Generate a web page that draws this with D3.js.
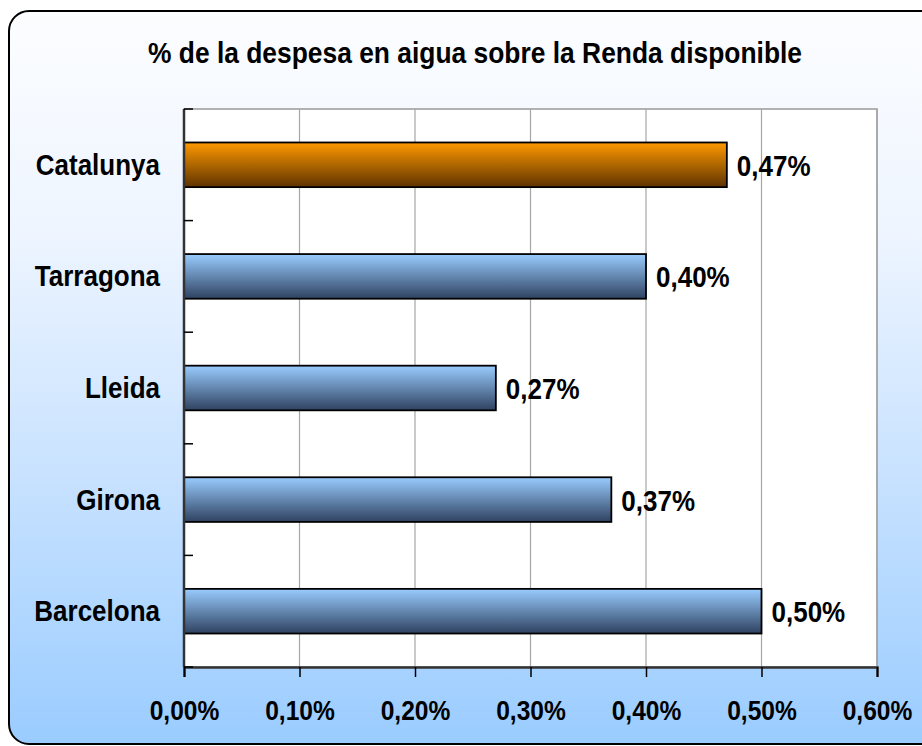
<!DOCTYPE html>
<html>
<head>
<meta charset="utf-8">
<script src="https://cdn.jsdelivr.net/npm/d3@7"></script>
<style>
  html, body { margin: 0; padding: 0; background: #ffffff; }
  svg { display: block; font-family: "Liberation Sans", Arial, sans-serif; font-weight: bold; }
</style>
</head>
<body>
<div id="chart"></div>
<script>
// Chart data
var titleText = "% de la despesa en aigua sobre la Renda disponible";
var categories = ["Catalunya", "Tarragona", "Lleida", "Girona", "Barcelona"];
var values = [0.47, 0.40, 0.27, 0.37, 0.50];   // in percent
var highlighted = ["Catalunya"];
var xTicks = [0, 0.1, 0.2, 0.3, 0.4, 0.5, 0.6];

var W = 922, H = 746;
var plot = { left: 184, right: 877, top: 109, bottom: 667 };
var stretch = 1.12; // the original text is a little taller than wide

function pct(v) {
	// Catalan style: comma decimals
	return v.toFixed(2).replace(".", ",") + "%";
}

// place a text at its baseline point, slightly stretched vertically
function place(px, py) {
	return "translate(" + px + "," + py + ") scale(1," + stretch + ")";
}

var svg = d3.select("#chart").append("svg").attr("width", W).attr("height", H);
var defs = svg.append("defs");

// background gradient of the chart frame
var bg = defs.append("linearGradient").attr("id", "bgGrad")
	.attr("x1", 0).attr("y1", 0).attr("x2", 0).attr("y2", 1);
bg.append("stop").attr("offset", "0%").attr("stop-color", "#fcfdff");
bg.append("stop").attr("offset", "30%").attr("stop-color", "#eef5ff");
bg.append("stop").attr("offset", "65%").attr("stop-color", "#c6e1ff");
bg.append("stop").attr("offset", "100%").attr("stop-color", "#9accff");

// bar gradients
var blue = defs.append("linearGradient").attr("id", "blueGrad")
	.attr("x1", 0).attr("y1", 0).attr("x2", 0).attr("y2", 1);
blue.append("stop").attr("offset", "0%").attr("stop-color", "#99ccff");
blue.append("stop").attr("offset", "100%").attr("stop-color", "#2f4260");

var orange = defs.append("linearGradient").attr("id", "orangeGrad")
	.attr("x1", 0).attr("y1", 0).attr("x2", 0).attr("y2", 1);
orange.append("stop").attr("offset", "0%").attr("stop-color", "#ff9900");
orange.append("stop").attr("offset", "100%").attr("stop-color", "#5e3300");

// outer rounded frame (runs past the right edge as in the picture)
svg.append("rect")
	.attr("x", 9).attr("y", 11)
	.attr("width", 940).attr("height", 733)
	.attr("rx", 20).attr("ry", 20)
	.attr("fill", "url(#bgGrad)")
	.attr("stroke", "#000").attr("stroke-width", 2);

// title
svg.append("text")
	.attr("transform", place(475, 63))
	.attr("text-anchor", "middle")
	.attr("font-size", 26.4)
	.text(titleText);

// scales
var x = d3.scaleLinear().domain([0, 0.6]).range([plot.left, plot.right]);
var y = d3.scaleBand().domain(categories)
	.range([plot.top, plot.bottom])
	.paddingInner(0.6).paddingOuter(0.3);

// plot area
svg.append("rect")
	.attr("x", plot.left).attr("y", plot.top)
	.attr("width", plot.right - plot.left).attr("height", plot.bottom - plot.top)
	.attr("fill", "#fff").attr("stroke", "#999").attr("stroke-width", 1.5);

// vertical gridlines
svg.append("g").selectAll("line").data(xTicks.slice(1)).enter().append("line")
	.attr("x1", function(d) { return x(d); }).attr("x2", function(d) { return x(d); })
	.attr("y1", plot.top).attr("y2", plot.bottom)
	.attr("stroke", "#a6a6a6").attr("stroke-width", 1.2);

// bars
svg.append("g").selectAll("rect").data(categories).enter().append("rect")
	.attr("x", x(0))
	.attr("y", function(d) { return y(d); })
	.attr("width", function(d, i) { return x(values[i]) - x(0); })
	.attr("height", y.bandwidth())
	.attr("fill", function(d) { return highlighted.indexOf(d) >= 0 ? "url(#orangeGrad)" : "url(#blueGrad)"; })
	.attr("stroke", "#000").attr("stroke-width", 1.8);

// value labels
svg.append("g").selectAll("text").data(categories).enter().append("text")
	.attr("transform", function(d, i) { return place(x(values[i]) + 10, y(d) + y.bandwidth() / 2 + 11); })
	.attr("font-size", 26)
	.text(function(d, i) { return pct(values[i]); });

// x axis
var xAxis = svg.append("g")
	.attr("transform", "translate(0," + plot.bottom + ")")
	.call(d3.axisBottom(x).tickValues(xTicks).tickSize(10).tickFormat(pct));
xAxis.select(".domain").attr("stroke", "#333").attr("stroke-width", 2.5);
xAxis.selectAll(".tick line").attr("stroke", "#000").attr("stroke-width", 1.5);
xAxis.selectAll(".tick text")
	.attr("y", null).attr("dy", null)
	.attr("transform", place(0, 53))
	.attr("font-size", 24.6).attr("font-family", null).attr("fill", "#000");

// y axis: line plus inside ticks at the category boundaries
svg.append("line")
	.attr("x1", plot.left).attr("x2", plot.left)
	.attr("y1", plot.top).attr("y2", plot.bottom)
	.attr("stroke", "#333").attr("stroke-width", 2.5);

var step = y.step();
var boundaries = d3.range(categories.length + 1).map(function(i) { return plot.top + i * step; });
svg.append("g").selectAll("line").data(boundaries).enter().append("line")
	.attr("x1", plot.left).attr("x2", plot.left + 9)
	.attr("y1", function(d) { return d; }).attr("y2", function(d) { return d; })
	.attr("stroke", "#000").attr("stroke-width", 1.5);

// category labels
svg.append("g").selectAll("text").data(categories).enter().append("text")
	.attr("transform", function(d) { return place(160, y(d) + y.bandwidth() / 2 + 10); })
	.attr("text-anchor", "end")
	.attr("font-size", 26)
	.text(function(d) { return d; });
</script>
</body>
</html>
